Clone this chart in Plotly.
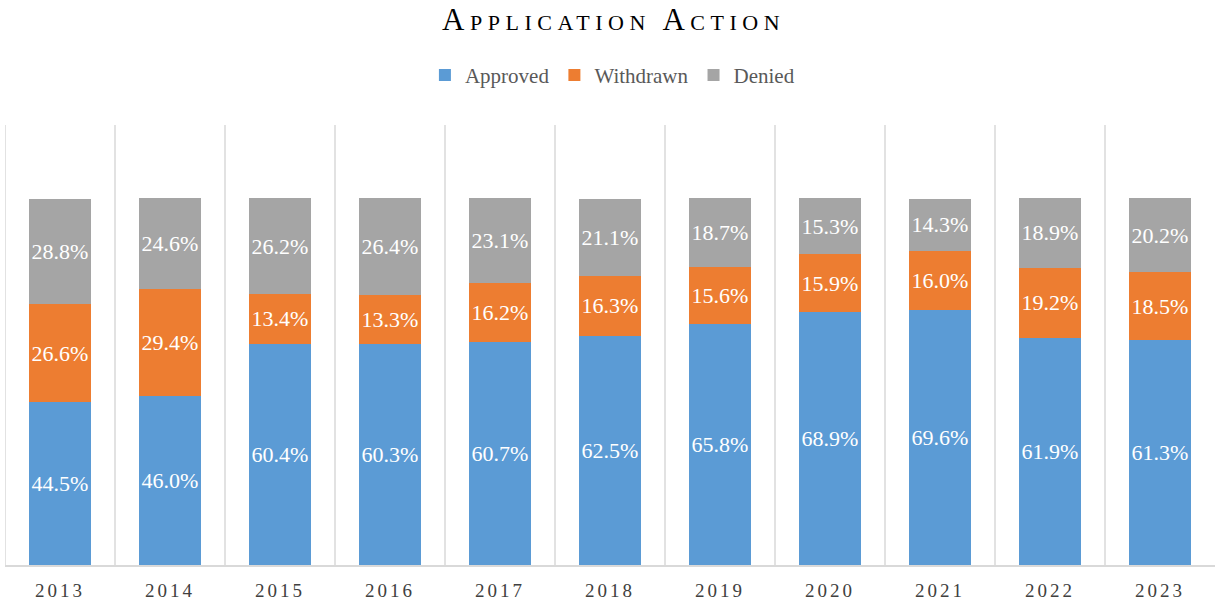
import plotly.graph_objects as go

years = ["2013", "2014", "2015", "2016", "2017", "2018", "2019", "2020", "2021", "2022", "2023"]
approved = [44.5, 46.0, 60.4, 60.3, 60.7, 62.5, 65.8, 68.9, 69.6, 61.9, 61.3]
withdrawn = [26.6, 29.4, 13.4, 13.3, 16.2, 16.3, 15.6, 15.9, 16.0, 19.2, 18.5]
denied = [28.8, 24.6, 26.2, 26.4, 23.1, 21.1, 18.7, 15.3, 14.3, 18.9, 20.2]

series = [("Approved", approved, "#5B9BD5"),
          ("Withdrawn", withdrawn, "#ED7D31"),
          ("Denied", denied, "#A5A5A5")]

FONT = "Liberation Serif"

fig = go.Figure()
for name, vals, color in series:
    fig.add_trace(go.Bar(
        name=name, x=years, y=vals,
        marker=dict(color=color, line=dict(width=0)),
        text=[f"{v:.1f}%" for v in vals],
        textposition="inside", insidetextanchor="middle", textangle=0,
        constraintext="none",
        textfont=dict(family=FONT, size=22, color="white"),
        hoverinfo="x+y+name",
    ))

shapes = []
for i in range(len(years)):
    shapes.append(dict(type="line", xref="x", yref="paper",
                       x0=i - 0.5, x1=i - 0.5, y0=0, y1=1,
                       line=dict(color="#D9D9D9", width=1.5), layer="below"))

fig.update_layout(
    width=1215, height=600,
    barmode="stack", bargap=0.44,
    plot_bgcolor="white", paper_bgcolor="white",
    margin=dict(l=5, r=0, t=125, b=35),
    title=dict(text="Application Action", x=0.505, xanchor="center",
               y=0.968, yanchor="middle",
               font=dict(family=FONT, size=31, color="#000000", variant="small-caps")),
    legend=dict(orientation="h", x=0.502, xanchor="center", y=1.113, yanchor="middle",
                font=dict(family=FONT, size=21, color="#595959"),
                itemwidth=30, traceorder="normal"),
    xaxis=dict(type="category", showgrid=False, showline=True, linecolor="#D9D9D9",
               linewidth=1.5, ticks="", ticklabelstandoff=7, automargin=False,
               tickfont=dict(family=FONT, size=19, color="#404040"),
               range=[-0.5, len(years) - 0.5]),
    yaxis=dict(range=[0, 120], visible=False, showgrid=False, zeroline=False,
               automargin=False),
    shapes=shapes,
    showlegend=True,
)

post = """
document.body.style.margin = '0';
document.body.style.overflow = 'hidden';
var gd = document.getElementById('{plot_id}');
gd.querySelectorAll('.gtitle').forEach(function(e){ e.style.letterSpacing = '5.5px'; });
gd.querySelectorAll('.xtick text').forEach(function(e){ e.style.letterSpacing = '3px'; });
"""

fig.write_html("out.html", post_script=post, config={"displayModeBar": False})
